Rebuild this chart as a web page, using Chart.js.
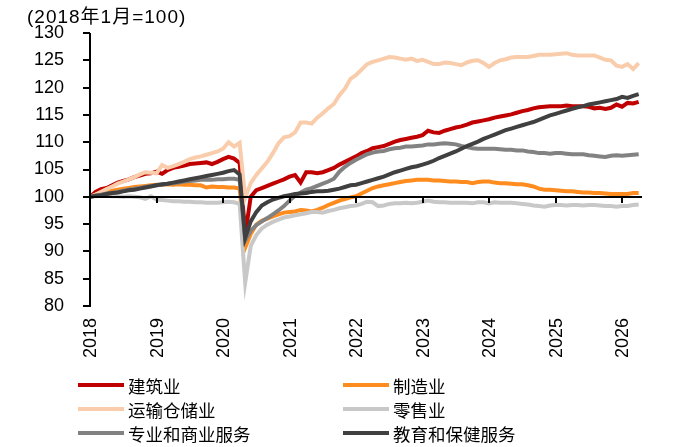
<!DOCTYPE html>
<html>
<head>
<meta charset="utf-8">
<script src="https://cdn.jsdelivr.net/npm/chart.js@4.4.1/dist/chart.umd.min.js"></script>
<style>
  body { margin: 0; background: #fff; }
  #wrap { position: relative; width: 673px; height: 447px; }
  #chart { position: absolute; left: 0; top: 0; }
  #axes { position: absolute; left: 0; top: 0; width: 673px; height: 447px; z-index: 3; pointer-events: none; }
  .rule { position: absolute; background: #000; }
  .year { position: absolute; white-space: nowrap; line-height: 18px; color: #000;
    font: 18px "Liberation Sans", Arial, sans-serif;
    transform-origin: 100% 50%; transform: translate(-100%, -50%) rotate(-90deg); }
  #title {
    position: absolute; left: 27px; top: 1px; letter-spacing: 1px; z-index: 2;
    font: 19px "Liberation Sans", "Noto Sans CJK SC", sans-serif; color: #000;
  }
  #legend { position: absolute; left: 0; top: 0; z-index: 2; }
  .item { position: absolute; height: 22px; display: flex; align-items: center;
    font: 17.5px "Noto Sans CJK SC", sans-serif; color: #000; white-space: nowrap; }
  .swatch { width: 46px; height: 4px; margin-right: 4px; }
</style>
</head>
<body>
<div id="wrap">
  <canvas id="chart" width="673" height="447"></canvas>
  <div id="axes"></div>
  <div id="title">(2018年1月=100)</div>
  <div id="legend"></div>
</div>
<script>
const yearTicks = [2018, 2019, 2020, 2021, 2022, 2023, 2024, 2025, 2026];
const valueTicks = [80, 85, 90, 95, 100, 105, 110, 115, 120, 125, 130];

const seriesNames = ["建筑业", "制造业", "运输仓储业", "零售业", "专业和商业服务", "教育和保健服务"];
const seriesColors = ["#c00000", "#ff8c1e", "#f9cdac", "#c8c8c8", "#828282", "#404040"];

// monthly index, Jan 2018 = 100
const construction = [
  100, 100.9, 101.4, 101.6, 102.1, 102.6, 102.9, 103.2, 103.6, 103.9, 104.2, 104.3,
  104.6, 104.2, 104.9, 105.3, 105.5, 105.7, 106.0, 106.1, 106.2, 106.3, 106.0, 106.4,
  106.9, 107.3, 107.0, 106.2, 93.0, 100.0, 101.2, 101.6, 102.0, 102.4, 102.8, 103.2,
  103.7, 104.0, 102.6, 104.5, 104.5, 104.3, 104.5, 104.9, 105.3, 105.9, 106.4, 106.9,
  107.4, 108.0, 108.4, 108.9, 109.1, 109.3, 109.7, 110.1, 110.4, 110.6, 110.8, 111.0,
  111.3, 112.1, 111.8, 111.7, 112.1, 112.4, 112.7, 112.9, 113.2, 113.6, 113.8, 114.0,
  114.2, 114.5, 114.7, 114.9, 115.1, 115.4, 115.7, 115.9, 116.2, 116.4, 116.5, 116.6,
  116.6, 116.6, 116.7, 116.6, 116.6, 116.6, 116.5, 116.2, 116.3, 116.1, 116.3, 116.9,
  116.5, 117.2, 117.1, 117.4
];
const manufacturing = [
  100, 100.4, 100.7, 100.9, 101.1, 101.3, 101.5, 101.6, 101.8, 101.9, 102.0, 102.1,
  102.2, 102.2, 102.3, 102.2, 102.3, 102.2, 102.2, 102.1, 102.1, 101.7, 101.9, 101.8,
  101.8, 101.7, 101.7, 101.5, 90.7, 93.2, 94.9, 95.6, 96.0, 96.4, 96.8, 97.1,
  97.2, 97.3, 97.6, 97.5, 97.3, 97.6, 98.0, 98.5, 98.9, 99.3, 99.6, 99.9,
  100.1, 100.6, 101.1, 101.6, 101.9, 102.1, 102.3, 102.5, 102.7, 102.9, 103.0, 103.1,
  103.1, 103.1, 103.0, 103.0, 102.9, 102.8, 102.8, 102.7, 102.7, 102.5, 102.7, 102.8,
  102.8, 102.6, 102.5, 102.5, 102.4, 102.3, 102.3, 102.1, 101.9, 101.5, 101.3, 101.3,
  101.2, 101.1, 101.0, 101.0, 100.9, 100.8, 100.8, 100.7, 100.7, 100.6, 100.5, 100.5,
  100.5, 100.5, 100.7, 100.7
];
const transport = [
  100, 100.4, 100.9, 101.4, 101.9, 102.4, 102.8, 103.2, 103.6, 104.1, 104.5, 104.4,
  104.3, 105.8, 105.3, 105.6, 106.0, 106.4, 106.9, 107.2, 107.4, 107.7, 108.0, 108.3,
  108.8, 110.0, 109.2, 109.9, 99.8, 102.5, 104.0, 105.2, 106.4, 108.0, 109.8, 110.9,
  111.1, 111.8, 113.6, 113.6, 113.4, 114.5, 115.3, 116.2, 117.0, 118.6, 119.8, 121.6,
  122.3, 123.3, 124.3, 124.7, 125.0, 125.3, 125.6, 125.5, 125.3, 125.1, 125.3, 124.9,
  125.1, 124.7, 124.3, 124.3, 124.6, 124.5, 124.3, 124.1, 124.6, 124.9, 125.0, 124.5,
  123.8, 124.5, 125.0, 125.2, 125.5, 125.6, 125.6, 125.6, 125.8, 126.0, 126.0, 126.0,
  126.1, 126.2, 126.3, 126.0, 125.9, 125.9, 125.9, 125.9, 125.5, 125.1, 125.0, 124.0,
  123.8, 124.3, 123.4, 124.5
];
const retail = [
  100, 100.1, 100.2, 100.2, 100.1, 100.1, 100.0, 100.1, 100.0, 99.9, 99.6, 100.1,
  99.5, 99.4, 99.3, 99.2, 99.2, 99.1, 99.1, 99.0, 99.0, 98.9, 98.9, 98.9,
  99.0, 99.1, 99.0, 98.7, 84.3, 91.0, 93.0, 94.2, 94.9, 95.4, 95.8, 96.2,
  96.4, 96.6, 96.8, 97.0, 97.2, 97.2, 97.1, 97.4, 97.6, 97.9, 98.1, 98.3,
  98.4, 98.7, 99.1, 99.0, 98.3, 98.4, 98.7, 98.8, 98.8, 98.9, 98.8, 98.9,
  99.1, 99.3, 99.1, 99.0, 99.0, 98.9, 98.9, 98.9, 98.9, 98.8, 99.0, 99.0,
  98.8, 99.0, 98.9, 98.9, 98.9, 98.8, 98.7, 98.6, 98.4, 98.3, 98.2, 98.4,
  98.5, 98.5, 98.4, 98.5, 98.5, 98.4, 98.5, 98.5, 98.4, 98.3, 98.3, 98.2,
  98.3, 98.3, 98.5, 98.6
];
const business = [
  100, 100.2, 100.4, 100.6, 100.7, 100.9, 101.1, 101.3, 101.5, 101.6, 101.8, 102.0,
  102.1, 102.2, 102.4, 102.5, 102.6, 102.8, 102.9, 103.0, 103.1, 103.1, 103.1, 103.2,
  103.2, 103.3, 103.3, 103.1, 92.0, 93.8, 94.8, 95.5, 96.1, 96.8, 97.5, 98.3,
  99.3, 100.2, 100.8, 101.3, 101.6, 102.0, 102.4, 102.8, 103.3, 104.6, 105.5, 106.2,
  106.8, 107.3, 107.8, 108.1, 108.3, 108.4, 108.7, 108.9, 109.0, 109.2, 109.2, 109.3,
  109.4, 109.6, 109.6, 109.7, 109.8, 109.7, 109.6, 109.3, 109.1, 108.9, 108.8, 108.8,
  108.8, 108.8, 108.7, 108.6, 108.6, 108.5, 108.5, 108.3, 108.2, 108.0, 108.0, 107.9,
  108.0, 108.0, 107.9, 107.8, 107.8, 107.8, 107.6, 107.5, 107.4, 107.3, 107.5, 107.6,
  107.5, 107.6, 107.7, 107.8
];
const educationHealth = [
  100, 100.2, 100.3, 100.5, 100.7, 100.8, 101.0, 101.2, 101.3, 101.5, 101.7, 101.9,
  102.1, 102.3, 102.4, 102.6, 102.8, 103.0, 103.2, 103.4, 103.6, 103.8, 104.0, 104.2,
  104.4, 104.7, 104.9, 104.1, 92.5, 95.5, 97.2, 98.4, 99.0, 99.5, 99.8, 100.1,
  100.3, 100.5, 100.6, 100.7, 100.9, 101.0, 101.0, 101.1, 101.3, 101.5, 101.8, 102.1,
  102.2, 102.5, 102.8, 103.1, 103.4, 103.7, 104.1, 104.5, 104.8, 105.1, 105.4, 105.6,
  105.9, 106.2, 106.6, 107.1, 107.5, 107.9, 108.3, 108.8, 109.3, 109.7, 110.1, 110.6,
  111.0, 111.4, 111.8, 112.2, 112.5, 112.8, 113.1, 113.4, 113.7, 114.1, 114.5, 114.9,
  115.2, 115.5, 115.8, 116.1, 116.4, 116.6, 116.9, 117.1, 117.3, 117.5, 117.7, 117.9,
  118.3, 118.1, 118.5, 118.8
];

const seriesValues = [construction, manufacturing, transport, retail, business, educationHealth];
// x position of each month (Jan 2018 -> 2018.0)
const months = construction.map((_, i) => 2018 + i / 12);

// Chart.js paints the first dataset on top, so the list is reversed
// to keep the later series (dark grey) above the earlier ones.
const datasets = seriesValues.map((values, k) => ({
  label: seriesNames[k],
  data: values.map((v, i) => ({ x: months[i], y: v })),
  borderColor: seriesColors[k],
  borderWidth: 4,
  pointRadius: 0,
  tension: 0
})).reverse();

const lineChart = new Chart(document.getElementById("chart"), {
  type: "line",
  data: { datasets },
  options: {
    responsive: false,
    animation: false,
    layout: { padding: { top: 33, right: 31, bottom: 141, left: 0 } },
    plugins: { legend: { display: false }, tooltip: { enabled: false } },
    scales: {
      x: { type: "linear", min: 2018, max: 2026.3, display: false },
      y: {
        min: 80, max: 130,
        afterBuildTicks: scale => { scale.ticks = valueTicks.map(value => ({ value })); },
        afterFit: scale => { scale.width = 90; },
        grid: { drawOnChartArea: false, tickLength: 6, color: "rgba(0,0,0,0)" },
        border: { display: false },
        ticks: {
          padding: 20, color: "#000",
          font: { family: "'Liberation Sans', Arial, sans-serif", size: 18 },
          callback: value => String(value)
        }
      }
    }
  }
});

// Axis lines, ticks and rotated year labels, placed at the pixels the
// chart's own scales give. The time axis crosses the value axis at 100.
const axes = document.getElementById("axes");
const area = lineChart.chartArea;
const xs = lineChart.scales.x, ys = lineChart.scales.y;
const base = Math.round(ys.getPixelForValue(100));
const left = Math.round(area.left);

function rule(x, y, w, h) {
  const d = document.createElement("div");
  d.className = "rule";
  d.style.left = x + "px";
  d.style.top = y + "px";
  d.style.width = w + "px";
  d.style.height = h + "px";
  axes.appendChild(d);
}

rule(left - 1, Math.round(area.top), 2, Math.round(area.bottom - area.top) + 1);
valueTicks.forEach(v => rule(left - 7, Math.round(ys.getPixelForValue(v)) - 1, 7, 2));
rule(left, base - 1, Math.round(area.right - area.left), 2);
yearTicks.forEach(t => rule(Math.round(xs.getPixelForValue(t)) - 1, base, 2, 6));
yearTicks.forEach(t => {
  const label = document.createElement("div");
  label.className = "year";
  label.style.left = xs.getPixelForValue(t) + "px";
  label.style.top = (area.bottom + 12) + "px";
  label.textContent = String(t);
  axes.appendChild(label);
});

// two-column legend under the chart
const legend = document.getElementById("legend");
const colX = [78, 343];
const rowY = [374, 398, 422];
seriesNames.forEach((name, k) => {
  const item = document.createElement("div");
  item.className = "item";
  item.style.left = colX[k % 2] + "px";
  item.style.top = rowY[Math.floor(k / 2)] + "px";
  const sw = document.createElement("span");
  sw.className = "swatch";
  sw.style.background = seriesColors[k];
  item.appendChild(sw);
  item.appendChild(document.createTextNode(name));
  legend.appendChild(item);
});
</script>
</body>
</html>
